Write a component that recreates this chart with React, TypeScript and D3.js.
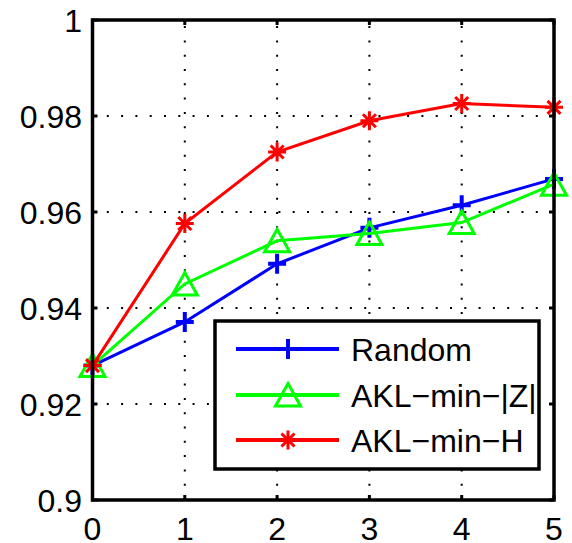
import React, { useEffect, useRef } from 'react';
import * as d3 from 'd3';

// values
const xTicks = [0, 1, 2, 3, 4, 5];
const yTicks = [0.9, 0.92, 0.94, 0.96, 0.98, 1];
const yTickLabels = ['0.9', '0.92', '0.94', '0.96', '0.98', '1'];

const randomValues = [0.928, 0.9371, 0.9492, 0.9567, 0.9614, 0.9669];
const aklZValues = [0.928, 0.945, 0.954, 0.9555, 0.9578, 0.9658];
const aklHValues = [0.928, 0.9576, 0.9725, 0.979, 0.9826, 0.9818];

const seriesNames = ['Random', 'AKL\u2212min\u2212|Z|', 'AKL\u2212min\u2212H'];
const seriesColors = ['#0000ff', '#00ff00', '#ff0000'];
const seriesMarkers = ['plus', 'triangle', 'star'];

const font = '"Liberation Sans", Arial, sans-serif';

function drawMarker(g: any, kind: string, color: string, cx: number, cy: number) {
    if (kind === 'plus') {
        g.append('path')
            .attr('d', 'M-9,0H9M0,-10V10')
            .attr('transform', 'translate(' + cx + ',' + cy + ')')
            .style('fill', 'none')
            .style('stroke', color)
            .style('stroke-width', 4);
    } else if (kind === 'triangle') {
        g.append('path')
            .attr('d', 'M0,-11.5L12.5,11L-12.5,11Z')
            .attr('transform', 'translate(' + cx + ',' + cy + ')')
            .style('fill', 'none')
            .style('stroke', color)
            .style('stroke-width', 3);
    } else {
        g.append('path')
            .attr('d', 'M-9,0H9M0,-9.5V9.5M-6.5,-6.5L6.5,6.5M-6.5,6.5L6.5,-6.5')
            .attr('transform', 'translate(' + cx + ',' + cy + ')')
            .style('fill', 'none')
            .style('stroke', color)
            .style('stroke-width', 3);
    }
}

export default function App() {
    const svgRef = useRef<SVGSVGElement>(null);

    useEffect(() => {
        const svg = d3.select(svgRef.current);
        svg.selectAll('*').remove();

        const left = 92.5, right = 554, top = 20, bottom = 500;

        const x = d3.scaleLinear().domain([0, 5]).range([left, right]);
        const y = d3.scaleLinear().domain([0.9, 1]).range([bottom, top]);

        svg.append('rect')
            .attr('width', 572)
            .attr('height', 543)
            .style('fill', 'white');

        // dotted grid
        const grid = svg.append('g');
        xTicks.slice(1, -1).forEach(t => {
            grid.append('line')
                .attr('x1', x(t)).attr('x2', x(t))
                .attr('y1', bottom).attr('y2', top)
                .style('stroke', 'black')
                .style('stroke-width', 2)
                .style('stroke-dasharray', '2,12.3');
        });
        yTicks.slice(1, -1).forEach(t => {
            grid.append('line')
                .attr('x1', left).attr('x2', right)
                .attr('y1', y(t)).attr('y2', y(t))
                .style('stroke', 'black')
                .style('stroke-width', 2)
                .style('stroke-dasharray', '2,12.3');
        });

        // inward ticks on all sides
        const ticks = svg.append('g');
        xTicks.forEach(t => {
            ticks.append('line')
                .attr('x1', x(t)).attr('x2', x(t))
                .attr('y1', bottom).attr('y2', bottom - 5)
                .style('stroke', 'black').style('stroke-width', 3);
            ticks.append('line')
                .attr('x1', x(t)).attr('x2', x(t))
                .attr('y1', top).attr('y2', top + 5)
                .style('stroke', 'black').style('stroke-width', 3);
        });
        yTicks.forEach(t => {
            ticks.append('line')
                .attr('x1', left).attr('x2', left + 5)
                .attr('y1', y(t)).attr('y2', y(t))
                .style('stroke', 'black').style('stroke-width', 3);
            ticks.append('line')
                .attr('x1', right).attr('x2', right - 5)
                .attr('y1', y(t)).attr('y2', y(t))
                .style('stroke', 'black').style('stroke-width', 3);
        });

        // tick labels
        yTicks.forEach((t, i) => {
            svg.append('text')
                .attr('x', 82)
                .attr('y', y(t))
                .attr('dy', '0.36em')
                .attr('text-anchor', 'end')
                .style('font-family', font)
                .style('font-size', '32px')
                .text(yTickLabels[i]);
        });
        xTicks.forEach(t => {
            svg.append('text')
                .attr('x', x(t))
                .attr('y', 540)
                .attr('text-anchor', 'middle')
                .style('font-family', font)
                .style('font-size', '32px')
                .text(String(t));
        });

        // series
        const allValues = [randomValues, aklZValues, aklHValues];
        const line = d3.line<number>()
            .x((d, i) => x(xTicks[i]))
            .y(d => y(d));

        allValues.forEach((vals, s) => {
            const g = svg.append('g');
            g.append('path')
                .datum(vals)
                .attr('d', line)
                .style('fill', 'none')
                .style('stroke', seriesColors[s])
                .style('stroke-width', 3);
            vals.forEach((v, i) => drawMarker(g, seriesMarkers[s], seriesColors[s], x(xTicks[i]), y(v)));
        });

        // frame
        svg.append('rect')
            .attr('x', left).attr('y', top)
            .attr('width', right - left).attr('height', bottom - top)
            .style('fill', 'none')
            .style('stroke', 'black')
            .style('stroke-width', 3.5);

        // legend
        const legend = svg.append('g');
        legend.append('rect')
            .attr('x', 215).attr('y', 321)
            .attr('width', 324).attr('height', 148)
            .style('fill', 'white')
            .style('stroke', 'black')
            .style('stroke-width', 3.5);
        const rowY = [349, 395, 440];
        seriesNames.forEach((name, s) => {
            legend.append('line')
                .attr('x1', 236).attr('x2', 339)
                .attr('y1', rowY[s]).attr('y2', rowY[s])
                .style('stroke', seriesColors[s])
                .style('stroke-width', 4);
            drawMarker(legend, seriesMarkers[s], seriesColors[s], 288, rowY[s]);
            legend.append('text')
                .attr('x', 351)
                .attr('y', rowY[s] + 12)
                .style('font-family', font)
                .style('font-size', '32px')
                .text(name);
        });
    }, []);

    return (
        <svg
            ref={svgRef}
            width={572}
            height={543}
            style={{position: 'absolute', left: 0, top: 0}}/>
    );
}
